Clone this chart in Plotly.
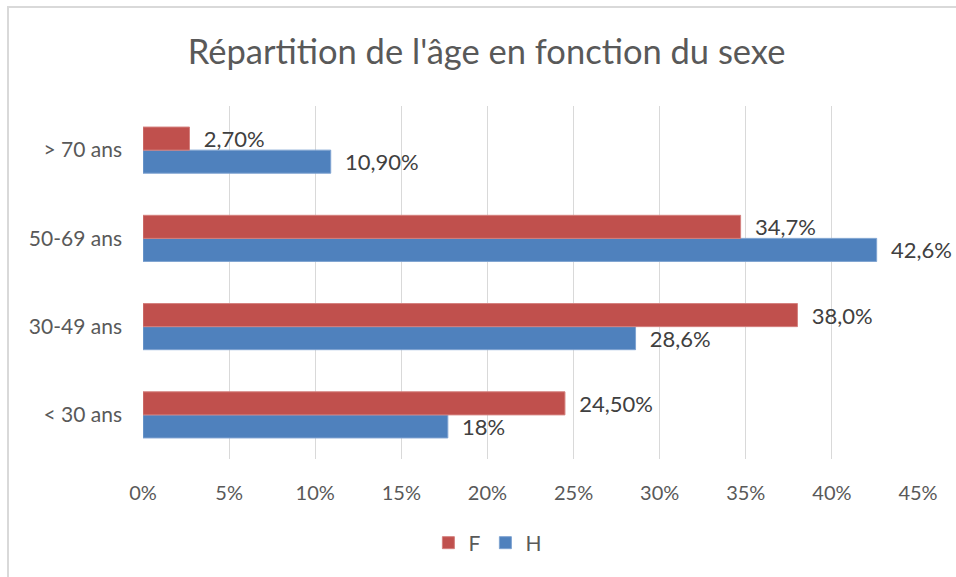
import plotly.graph_objects as go

categories = ["< 30 ans", "30-49 ans", "50-69 ans", "> 70 ans"]
f_values = [24.5, 38.0, 34.7, 2.7]
h_values = [17.7, 28.6, 42.6, 10.9]
f_labels = ["24,50%", "38,0%", "34,7%", "2,70%"]
h_labels = ["18%", "28,6%", "42,6%", "10,90%"]
x_ticks = [0, 5, 10, 15, 20, 25, 30, 35, 40, 45]
x_tick_labels = ["0%", "5%", "10%", "15%", "20%", "25%", "30%", "35%", "40%", "45%"]

FONT = "Lato, Carlito, Calibri, sans-serif"
pad = "\u00a0\u00a0"

fig = go.Figure()
fig.add_trace(go.Bar(
    name="H", y=categories, x=h_values, orientation="h",
    marker=dict(color="#4F81BD", line=dict(color="#7FA3D1", width=1)),
    text=[pad + t for t in h_labels], textposition="outside", constraintext="none",
    textfont=dict(family=FONT, size=22, color="#404040"),
    cliponaxis=False, legendrank=2,
))
fig.add_trace(go.Bar(
    name="F", y=categories, x=f_values, orientation="h",
    marker=dict(color="#C0504D", line=dict(color="#D4807E", width=1)),
    text=[pad + t for t in f_labels], textposition="outside", constraintext="none",
    textfont=dict(family=FONT, size=22, color="#404040"),
    cliponaxis=False, legendrank=1,
))

fig.update_layout(
    width=956, height=577,
    paper_bgcolor="white", plot_bgcolor="white",
    margin=dict(l=143, r=38, t=106, b=118),
    barmode="group", bargap=0.477, bargroupgap=0,
    font=dict(family=FONT, color="#595959"),
    title=dict(text="Répartition de l'âge en fonction du sexe",
               x=0.509, xanchor="center", xref="container",
               y=0.91, yanchor="middle", yref="container",
               font=dict(family=FONT, size=34.5, color="#595959")),
    showlegend=True,
    legend=dict(orientation="h", x=0.445, xanchor="center", xref="paper",
                y=-0.238, yanchor="middle",
                font=dict(family=FONT, size=21, color="#595959"),
                itemwidth=30, traceorder="normal"),
    xaxis=dict(range=[0, 45], tickvals=x_ticks, ticktext=x_tick_labels,
               showgrid=True, gridcolor="#D9D9D9", gridwidth=1,
               zeroline=False, showline=False, ticks="", ticklabelstandoff=20,
               tickfont=dict(family=FONT, size=20, color="#595959")),
    yaxis=dict(range=[-0.5, 3.5], showgrid=False, zeroline=False, showline=False,
               ticks="", ticklabelstandoff=20,
               tickfont=dict(family=FONT, size=21, color="#595959")),
    shapes=[dict(type="rect", xref="paper", yref="paper",
                 x0=-0.1742, x1=1.3, y0=-0.6, y1=1.2805,
                 line=dict(color="#D9D9D9", width=2), fillcolor="rgba(0,0,0,0)",
                 layer="below")],
)

fig.write_html("out.html", config={"displayModeBar": False},
               post_script="document.body.style.margin='0';")
